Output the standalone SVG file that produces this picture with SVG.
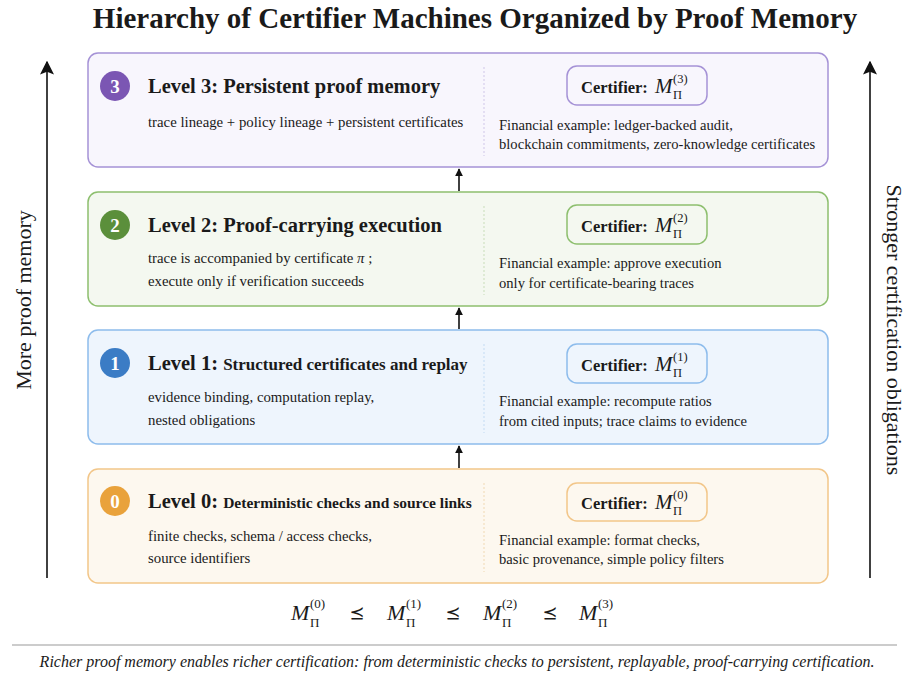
<svg xmlns="http://www.w3.org/2000/svg" width="909" height="677" viewBox="0 0 909 677">
<defs>
<marker id="ah" viewBox="0 0 10 10" refX="9" refY="5" markerWidth="8" markerHeight="8" orient="auto" markerUnits="userSpaceOnUse">
<path d="M0,0 L10,5 L0,10 z" fill="#111"/>
</marker>
<marker id="ahBig" viewBox="0 0 10 10" refX="9" refY="5" markerWidth="14" markerHeight="14" orient="auto" markerUnits="userSpaceOnUse">
<path d="M0,0 L10,5 L0,10 L2,5 z" fill="#111"/>
</marker>
<style>
text{font-family:"Liberation Serif","DejaVu Serif",serif;fill:#1a1a1a}
.title{font-size:29px;font-weight:bold}
.lvl{font-size:20.5px;font-weight:bold}
.lvs1{font-size:17px;font-weight:bold}
.lvs0{font-size:15.5px;font-weight:bold}
.sub{font-size:14.8px}
.fin{font-size:14.6px}
.badge{font-size:19px;font-weight:bold;fill:#fff;text-anchor:middle}
.cert{font-size:16.5px;font-weight:bold}
.m{font-size:21px;font-style:italic}
.sm{font-size:12.5px}
.fm{font-size:22px;font-style:italic}
.fs{font-size:13px}
.div{stroke-width:1;stroke-dasharray:2 2}
.axis{font-size:22px}
.cap{font-size:16px;font-style:italic}
.conn{stroke:#111;stroke-width:1.6;fill:none}
.rel{font-family:"DejaVu Sans","Noto Sans",sans-serif;font-size:18px}
</style>
</defs>
<rect width="909" height="677" fill="#fff"/>
<text class="title" x="475" y="28" text-anchor="middle">Hierarchy of Certifier Machines Organized by Proof Memory</text>

<g id="axis-left">
<line class="conn" x1="47" y1="578" x2="47" y2="62" stroke-width="2.2" marker-end="url(#ahBig)"/>
<text class="axis" transform="translate(31,300) rotate(-90)" text-anchor="middle">More proof memory</text>
</g>
<g id="axis-right">
<line class="conn" x1="870" y1="578" x2="870" y2="62" stroke-width="2.2" marker-end="url(#ahBig)"/>
<text class="axis" transform="translate(887,330) rotate(90)" text-anchor="middle">Stronger certification obligations</text>
</g>

<g id="level3">
<rect x="88" y="53" width="740" height="114" rx="10" fill="#f8f6fd" stroke="#a592d6" stroke-width="1.5"/>
<circle cx="115" cy="86" r="15" fill="#7b56b3"/>
<text class="badge" x="115" y="93">3</text>
<text class="lvl" x="148" y="93">Level 3: Persistent proof memory</text>
<text class="sub" x="148" y="127">trace lineage + policy lineage + persistent certificates</text>
<line class="div" x1="484" y1="67" x2="484" y2="156" stroke="#cfc6e8"/>
<rect x="567" y="66" width="140" height="39" rx="10" fill="#f8f6fd" stroke="#a592d6" stroke-width="1.5"/>
<text class="cert" x="581" y="93">Certifier:</text>
<text class="m" x="655" y="93">M</text>
<text class="sm" x="673" y="83">(3)</text>
<text class="sm" x="673" y="99">Π</text>
<text class="fin" x="499" y="130">Financial example: ledger-backed audit,</text>
<text class="fin" x="499" y="149">blockchain commitments, zero-knowledge certificates</text>
</g>

<g id="level2">
<rect x="88" y="192" width="740" height="114" rx="10" fill="#f4f8f0" stroke="#8dbf6e" stroke-width="1.5"/>
<circle cx="115" cy="225" r="15" fill="#5b8f3b"/>
<text class="badge" x="115" y="232">2</text>
<text class="lvl" x="148" y="232">Level 2: Proof-carrying execution</text>
<text class="sub" x="148" y="263">trace is accompanied by certificate <tspan font-style="italic">π</tspan> ;</text>
<text class="sub" x="148" y="286">execute only if verification succeeds</text>
<line class="div" x1="484" y1="206" x2="484" y2="295" stroke="#c8ddb9"/>
<rect x="567" y="205" width="140" height="39" rx="10" fill="#f4f8f0" stroke="#8dbf6e" stroke-width="1.5"/>
<text class="cert" x="581" y="232">Certifier:</text>
<text class="m" x="655" y="232">M</text>
<text class="sm" x="673" y="222">(2)</text>
<text class="sm" x="673" y="238">Π</text>
<text class="fin" x="499" y="268">Financial example: approve execution</text>
<text class="fin" x="499" y="288">only for certificate-bearing traces</text>
</g>

<g id="level1">
<rect x="88" y="330" width="740" height="114" rx="10" fill="#eef5fd" stroke="#8dbcec" stroke-width="1.5"/>
<circle cx="115" cy="363" r="15" fill="#3b7cc5"/>
<text class="badge" x="115" y="370">1</text>
<text class="lvl" x="148" y="370">Level 1: <tspan class="lvs1">Structured certificates and replay</tspan></text>
<text class="sub" x="148" y="402">evidence binding, computation replay,</text>
<text class="sub" x="148" y="425">nested obligations</text>
<line class="div" x1="484" y1="344" x2="484" y2="433" stroke="#c3dbf3"/>
<rect x="567" y="344" width="140" height="39" rx="10" fill="#eef5fd" stroke="#8dbcec" stroke-width="1.5"/>
<text class="cert" x="581" y="371">Certifier:</text>
<text class="m" x="655" y="371">M</text>
<text class="sm" x="673" y="361">(1)</text>
<text class="sm" x="673" y="377">Π</text>
<text class="fin" x="499" y="406">Financial example: recompute ratios</text>
<text class="fin" x="499" y="426">from cited inputs; trace claims to evidence</text>
</g>

<g id="level0">
<rect x="88" y="469" width="740" height="114" rx="10" fill="#fdf8ef" stroke="#f2c689" stroke-width="1.5"/>
<circle cx="115" cy="501" r="15" fill="#e9a23b"/>
<text class="badge" x="115" y="508">0</text>
<text class="lvl" x="148" y="508">Level 0: <tspan class="lvs0">Deterministic checks and source links</tspan></text>
<text class="sub" x="148" y="541">finite checks, schema / access checks,</text>
<text class="sub" x="148" y="563">source identifiers</text>
<line class="div" x1="484" y1="483" x2="484" y2="572" stroke="#f0d9b3"/>
<rect x="567" y="483" width="140" height="38" rx="10" fill="#fdf8ef" stroke="#f2c689" stroke-width="1.5"/>
<text class="cert" x="581" y="509">Certifier:</text>
<text class="m" x="655" y="509">M</text>
<text class="sm" x="673" y="499">(0)</text>
<text class="sm" x="673" y="515">Π</text>
<text class="fin" x="499" y="545">Financial example: format checks,</text>
<text class="fin" x="499" y="564">basic provenance, simple policy filters</text>
</g>

<g id="connectors">
<line class="conn" x1="459" y1="468" x2="459" y2="446" marker-end="url(#ah)"/>
<line class="conn" x1="459" y1="329" x2="459" y2="308" marker-end="url(#ah)"/>
<line class="conn" x1="459" y1="191" x2="459" y2="169" marker-end="url(#ah)"/>
</g>

<g id="formula">
<text class="fm" x="291" y="620">M</text>
<text class="fs" x="310" y="608">(0)</text>
<text class="fs" x="310" y="627">Π</text>
<text class="rel" x="357" y="619" text-anchor="middle">⪯</text>
<text class="fm" x="387" y="620">M</text>
<text class="fs" x="406" y="608">(1)</text>
<text class="fs" x="406" y="627">Π</text>
<text class="rel" x="453" y="619" text-anchor="middle">⪯</text>
<text class="fm" x="483" y="620">M</text>
<text class="fs" x="502" y="608">(2)</text>
<text class="fs" x="502" y="627">Π</text>
<text class="rel" x="550" y="619" text-anchor="middle">⪯</text>
<text class="fm" x="579" y="620">M</text>
<text class="fs" x="598" y="608">(3)</text>
<text class="fs" x="598" y="627">Π</text>
</g>

<line x1="12" y1="645" x2="897" y2="645" stroke="#999" stroke-width="1.2"/>
<text class="cap" x="457" y="667" text-anchor="middle">Richer proof memory enables richer certification: from deterministic checks to persistent, replayable, proof-carrying certification.</text>
</svg>
